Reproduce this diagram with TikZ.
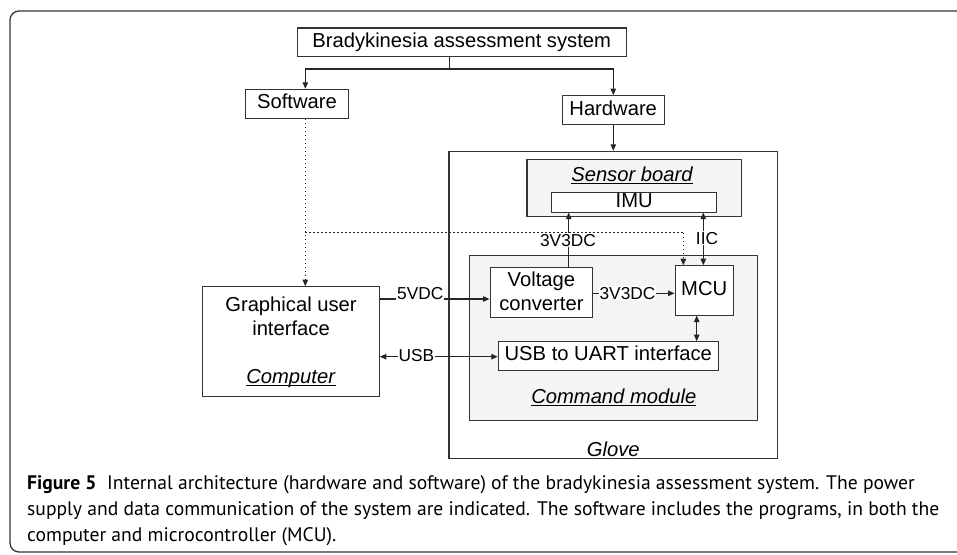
\documentclass[tikz,border=0pt]{standalone}
\usepackage{fontspec}
\setmainfont{Liberation Sans}
\newfontfamily\capfont{PT Sans}
\usetikzlibrary{arrows.meta}
\newcommand\ulbox[1]{\setbox0\hbox{#1}\rlap{\rule[-2.4pt]{\wd0}{1pt}}\box0}
\begin{document}
\begin{tikzpicture}[x=1pt,y=-1pt,
 box/.style={draw=black!80, line width=1.1pt, fill=white, inner sep=0pt, rectangle},
 tbox/.style={box, font=\fontsize{20.2}{23}\selectfont, text height=14.4pt, text depth=4.4pt},
 grp/.style={draw=black!80, line width=1.1pt, fill=gray!9, inner sep=0pt, rectangle},
 lab/.style={font=\fontsize{20.2}{23}\selectfont, inner sep=0pt, anchor=base},
 elab/.style={font=\fontsize{17.3}{20}\selectfont, fill=white, inner sep=1pt, anchor=base},
 conn/.style={draw=black!85, line width=1.1pt},
 arr/.style={conn, -{Triangle[length=6.5pt,width=5.5pt]}},
 darr/.style={conn, {Triangle[length=6.5pt,width=5.5pt]}-{Triangle[length=6.5pt,width=5.5pt]}},
 dots/.style={conn, dash pattern=on 1.2pt off 2.8pt},
 capstyle/.style={font=\capfont\fontsize{19.6}{23}\selectfont, anchor=base west, inner sep=0pt},
]
\useasboundingbox (0,0) rectangle (957,554);
\clip (0,0) rectangle (957,554);
\fill[white] (0,0) rectangle (957,554);
\draw[black!80, line width=1.3pt, rounded corners=9pt] (10,11) rectangle (1000,552);

% boxes
\node[tbox, minimum width=328.7pt, minimum height=28.7pt] (title) at (461.7,42.3) {Bradykinesia assessment system};
\node[tbox, minimum width=102.6pt, minimum height=29pt] (sw) at (297,103.8) {Software};
\node[tbox, minimum width=102.3pt, minimum height=28.6pt] (hw) at (613.2,110) {Hardware};
\node[box, minimum width=328.5pt, minimum height=307pt] (glove) at (613.25,304.8) {};
\node[lab] (glovelab) at (613.25,456) {\textit{Glove}};
\node[grp, minimum width=214.4pt, minimum height=57.4pt] (sensor) at (634.2,188) {};
\node[lab] (sensorlab) at (632.2,181.7) {\ulbox{\textit{Sensor board}}};
\node[tbox, minimum width=165pt, minimum height=19.7pt] (imu) at (634.2,202.2) {IMU};
\node[grp, minimum width=287.8pt, minimum height=164.3pt] (cmd) at (613.4,337.9) {};
\node[lab] (cmdlab) at (613.8,403.3) {\ulbox{\textit{Command module}}};
\node[box, minimum width=102.7pt, minimum height=49.6pt] (vc) at (541.4,292.5) {};
\node[lab] (vc1) at (541.4,286.7) {Voltage};
\node[lab] (vc2) at (541.4,310) {converter};
\node[tbox, minimum width=58.3pt, minimum height=49.3pt] (mcu) at (704.2,290.4) {MCU};
\node[tbox, minimum width=220pt, minimum height=28.3pt] (uart) at (608.3,355.9) {USB to UART interface};
\node[box, minimum width=176.6pt, minimum height=110pt] (comp) at (291,341.7) {};
\node[lab] (comp1) at (291,311.7) {Graphical user};
\node[lab] (comp2) at (291,335) {interface};
\node[lab] (comp3) at (291,383.3) {\ulbox{\textit{Computer}}};

% coordinates
\coordinate (j) at (449.3,69);
\coordinate (xs) at (305.3,69);
\coordinate (xh) at (613.3,69);
\coordinate (xp) at (568.7,0);
\coordinate (xi) at (703.3,0);
\coordinate (xm) at (696.7,0);
\coordinate (dl) at (305.3,232.7);
\coordinate (dr) at (683.3,232.7);
\coordinate (y5) at (0,299);
\coordinate (y3) at (0,293.3);
\coordinate (yu) at (0,356.7);

% tree connectors
\draw[conn] (title.south -| j) -- (j);
\draw[arr] (j) -- (xs) -- (xs |- sw.north);
\draw[arr] (j) -- (xh) -- (xh |- hw.north);
\draw[arr] (hw.south -| xh) -- (xh |- glove.north);

% solid signal connectors
\draw[arr] (xp |- vc.north) -- (xp |- imu.south);
\draw[darr] (xi |- imu.south) -- (xi |- mcu.north);
\draw[arr] (comp.east |- y5) -- (vc.west |- y5);
\draw[arr] (vc.east |- y3) -- (mcu.west |- y3);
\draw[darr] (comp.east |- yu) -- (uart.west |- yu);
\draw[darr] (xm |- mcu.south) -- (xm |- uart.north);

% labels
\node[elab] (l3a) at (568,246) {3V3DC};
\node[elab] (liic) at (707,244) {IIC};
\node[elab] (l5v) at (420.3,299.3) {5VDC};
\node[elab] (l3b) at (627.5,299.3) {3V3DC};
\node[elab] (lusb) at (416.3,361) {USB};

% dotted software links
\draw[dots, -{Triangle[length=6.5pt,width=5.5pt]}] (sw.south -| xs) -- (xs |- comp.north);
\draw[dots] (dl) -- (dr);
\draw[dots, -{Triangle[length=6.5pt,width=5.5pt]}] (dr) -- (dr |- mcu.north);

% caption
\node[capstyle] (cap1) at (27,489) {\textbf{Figure 5}\hspace{0.55em}Internal architecture (hardware and software) of the bradykinesia assessment system. The power};
\node[capstyle] (cap2) at (27,515) {supply and data communication of the system are indicated. The software includes the programs, in both the};
\node[capstyle] (cap3) at (27,541) {computer and microcontroller (MCU).};
\end{tikzpicture}
\end{document}
